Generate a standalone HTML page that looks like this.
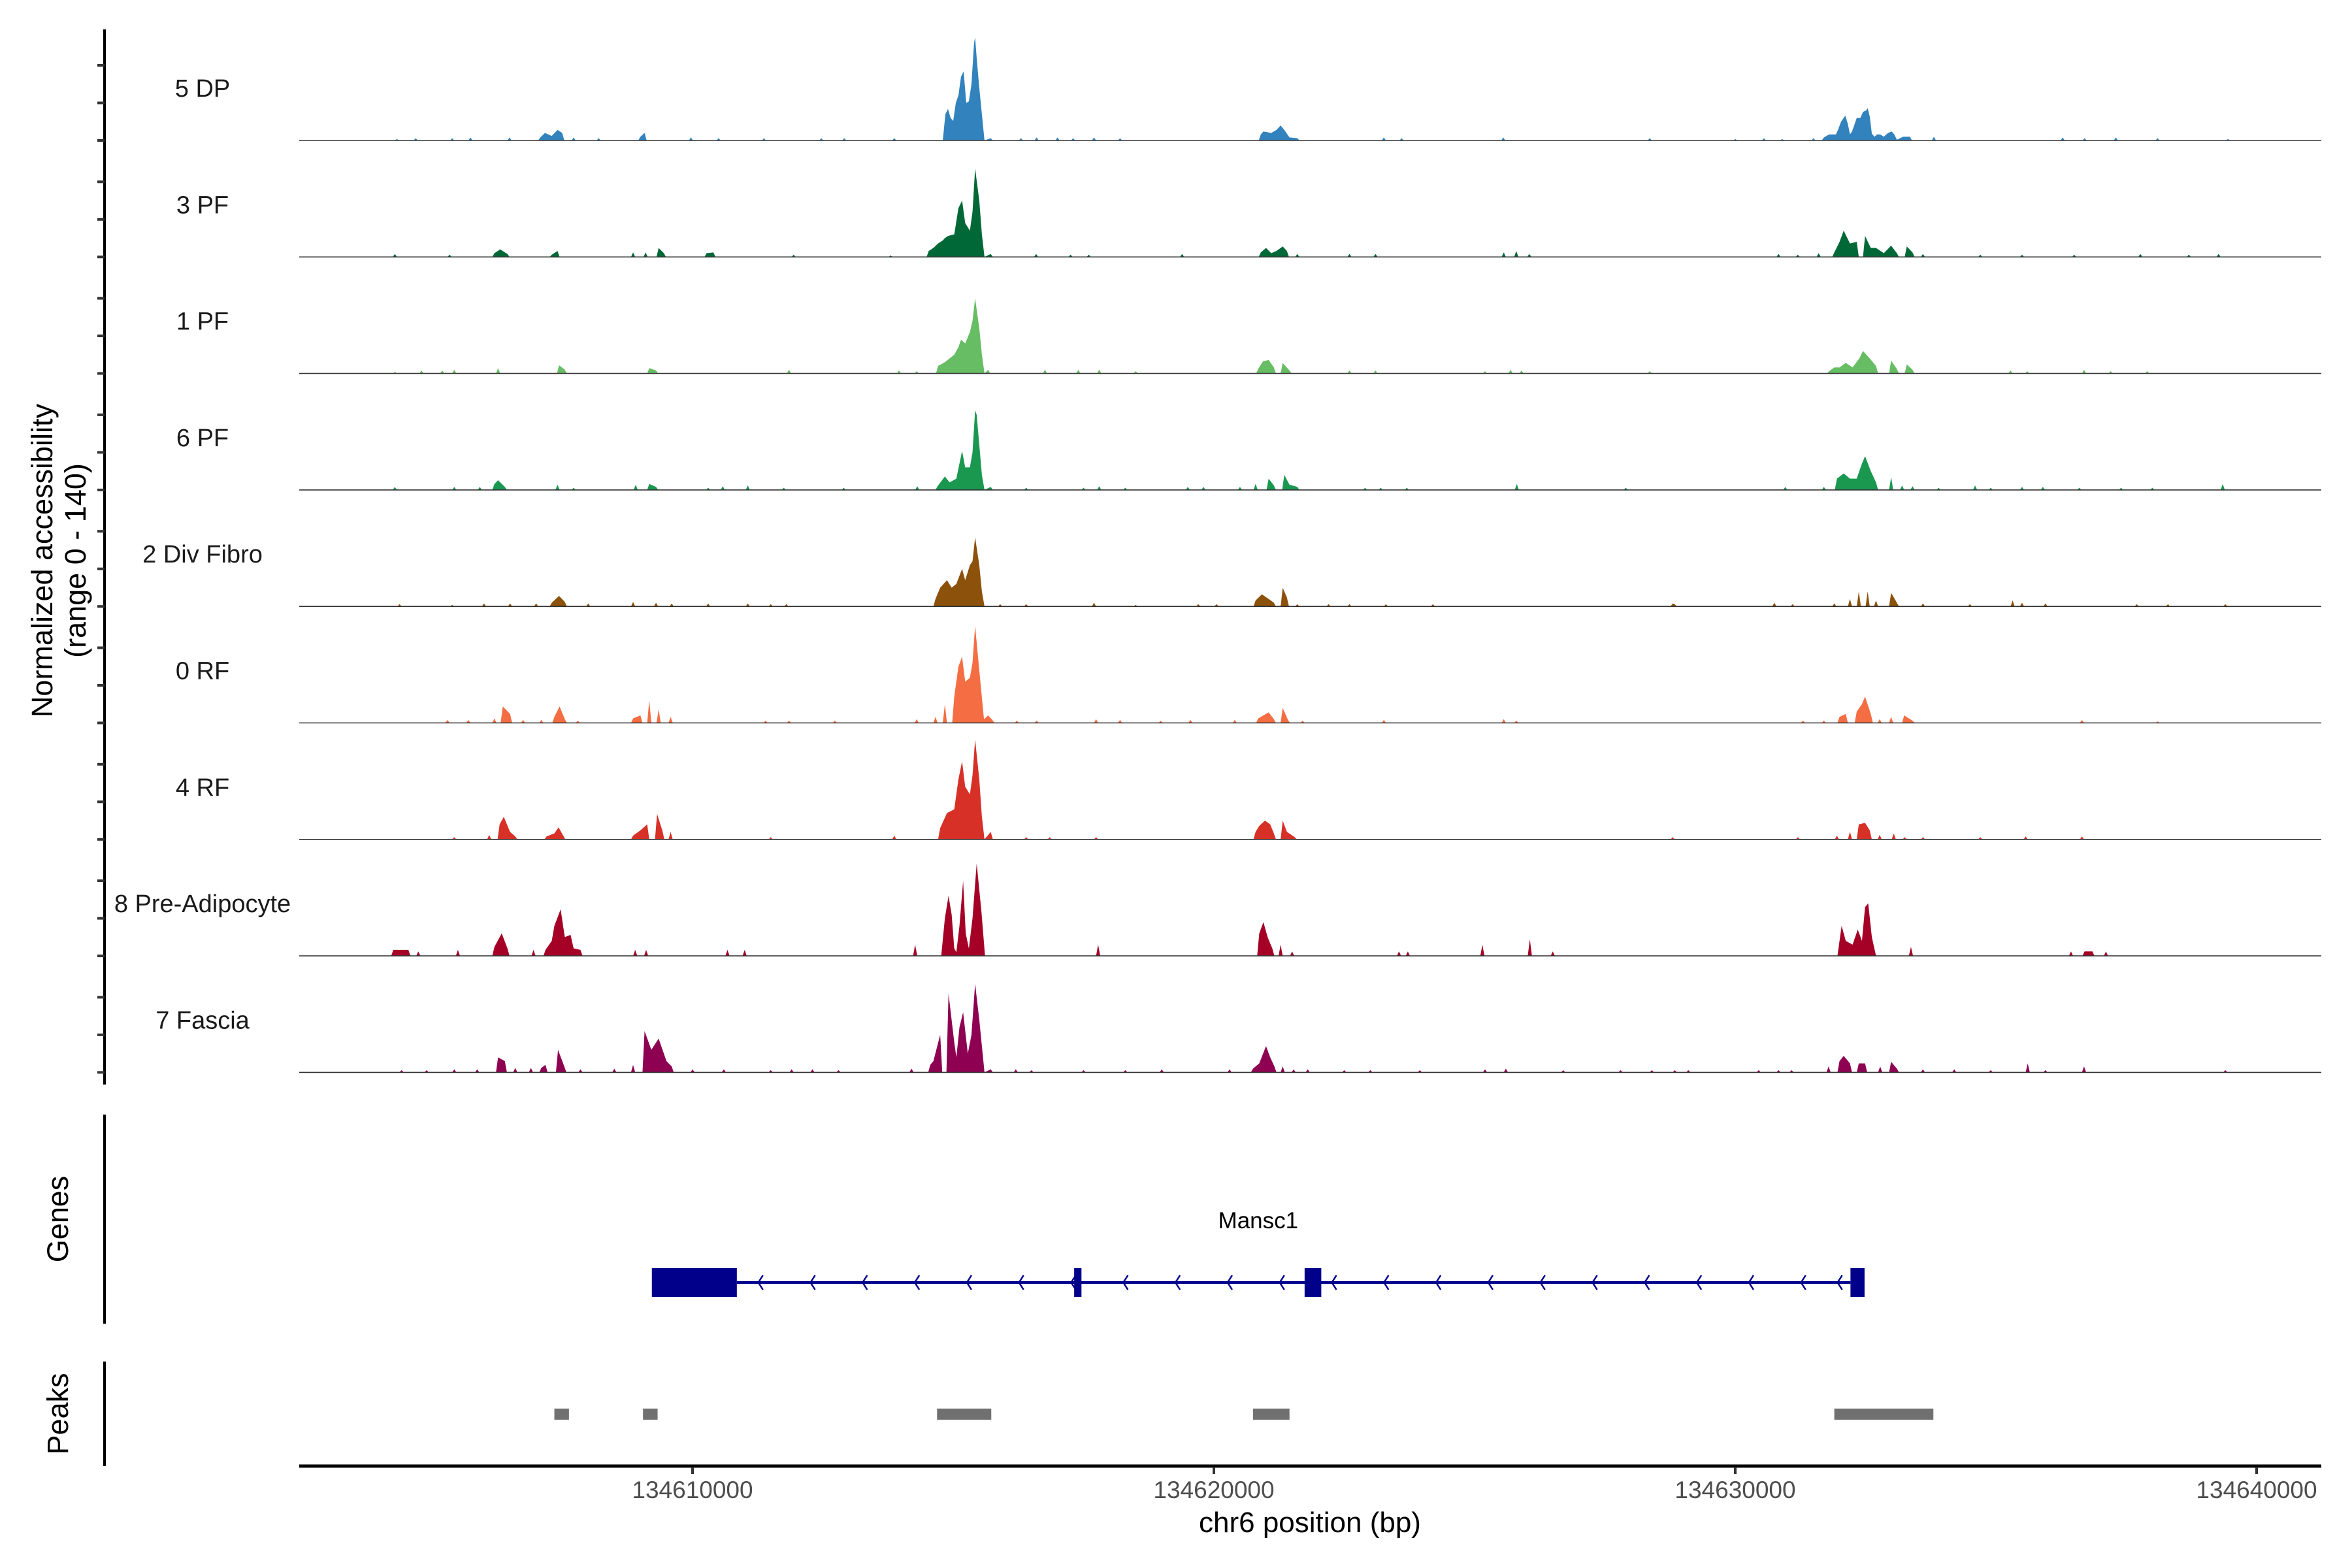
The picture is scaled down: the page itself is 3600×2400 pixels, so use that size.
<!DOCTYPE html>
<html><head><meta charset="utf-8">
<style>
html,body{margin:0;padding:0;background:#fff;}
svg{display:block;font-family:"Liberation Sans",Arial,sans-serif;}
</style></head>
<body>
<svg id="chart" xmlns="http://www.w3.org/2000/svg" width="3600" height="2400" viewBox="0 0 3600 2400">
  <g id="axes">
    <line x1="160" y1="45" x2="160" y2="1660" stroke="#000" stroke-width="4"/>
    <line x1="160" y1="1706" x2="160" y2="2026" stroke="#000" stroke-width="4"/>
    <line x1="160" y1="2084" x2="160" y2="2244" stroke="#000" stroke-width="4"/>
    <line x1="458" y1="2244" x2="3553" y2="2244" stroke="#000" stroke-width="5"/>
    <text transform="translate(80,858) rotate(-90)" text-anchor="middle" font-size="45" fill="#000">Normalized accessibility</text>
    <text transform="translate(131,858) rotate(-90)" text-anchor="middle" font-size="45" fill="#000">(range 0 - 140)</text>
    <text transform="translate(104,1866) rotate(-90)" text-anchor="middle" font-size="45" fill="#000">Genes</text>
    <text transform="translate(104,2164) rotate(-90)" text-anchor="middle" font-size="45" fill="#000">Peaks</text>
    <text x="2005" y="2345" text-anchor="middle" font-size="44" fill="#000">chr6 position (bp)</text>
  </g>
  <g id="tracks"></g>
  <g id="genes"></g>
  <g id="peaks"></g>
  <g id="xticks"></g>
</svg>
<script>
// positions in kb offset from 134600000; values in normalized accessibility (0-140)
const trackNames = ["5 DP","3 PF","1 PF","6 PF","2 Div Fibro","0 RF","4 RF","8 Pre-Adipocyte","7 Fascia"];
const trackColors = ["#3182bd","#006837","#66bd63","#1a9850","#8c510a","#f46d43","#d73027","#a50026","#8e0152"];
const xTickKb = [10,20,30,40];
const xTickLabels = ["134610000","134620000","134630000","134640000"];
const yTickValues = [0,50,100];

const cov5DP = [[4.33,2],[4.69,3],[5.39,3],[5.74,4],[6.49,4],[7.08,4],[7.17,10],[7.3,6],[7.41,14],[7.5,10],[7.72,4],[8.2,3],[9.0,5],[9.08,10],[9.97,4],[10.5,3],[11.37,3],[12.47,3],[12.91,3],[13.87,3],
 [14.8,0],[14.85,35],[14.9,42],[14.95,30],[15.0,26],[15.05,50],[15.1,60],[15.15,85],[15.2,92],[15.25,50],[15.3,52],[15.35,75],[15.4,130],[15.42,137],[15.45,110],[15.5,70],[15.55,35],[15.6,0],[15.72,3],
 [16.3,3],[16.6,4],[17.0,4],[17.3,3],[17.7,4],[18.2,3],[20.9,8],[20.95,12],[21.1,10],[21.2,14],[21.28,20],[21.35,14],[21.45,4],[21.6,3],[23.26,4],[23.6,3],[25.55,4],[28.36,3],
 [30.0,2],[30.55,3],[30.9,2],[31.5,3],[31.7,4],[31.8,8],[31.93,8],[31.97,14],[32.03,25],[32.11,33],[32.16,22],[32.2,8],[32.24,12],[32.33,30],[32.4,30],[32.45,38],[32.51,40],[32.54,43],[32.58,32],[32.62,9],[32.67,5],[32.72,8],[32.78,8],[32.85,5],[32.93,10],[33.0,12],[33.05,8],[33.1,1],[33.22,5],[33.35,5],[33.81,5],[36.28,4],[36.7,3],[37.3,4],[38.1,3],[39.45,2]];
const cov3PF = [[4.29,4],[5.34,3],[6.2,5],[6.31,10],[6.45,4],[7.3,3],[7.41,8],[8.86,6],[9.1,6],[9.35,12],[9.45,5],[10.27,5],[10.4,6],[11.94,3],[13.8,2],[14.53,8],[14.62,12],[14.71,18],[14.8,22],[14.84,25],[14.9,28],[15.02,30],[15.1,65],[15.17,75],[15.23,45],[15.32,35],[15.37,60],[15.42,118],[15.5,75],[15.55,30],[15.6,0],[15.72,4],
 [16.59,4],[17.25,3],[17.6,3],[19.39,4],[20.9,6],[21.0,12],[21.1,5],[21.2,8],[21.32,14],[21.4,8],[21.6,4],[22.6,4],[23.1,4],[25.56,6],[25.8,8],[26.05,4],
 [30.83,4],[31.2,3],[31.6,5],[31.9,6],[32.0,20],[32.08,35],[32.2,18],[32.33,20],[32.49,28],[32.6,12],[32.7,12],[32.85,5],[32.99,15],[33.1,5],[33.29,14],[33.4,6],[33.6,4],[34.7,3],[35.5,3],[36.5,3],[37.77,4],[38.7,3],[39.27,4]];
const cov1PF = [[4.29,2],[4.8,4],[5.2,4],[5.43,5],[6.27,7],[7.44,11],[7.55,5],[9.17,7],[9.3,4],[11.85,5],[13.96,4],[14.3,3],[14.71,10],[14.84,15],[14.93,20],[15.02,25],[15.1,35],[15.15,45],[15.23,40],[15.32,55],[15.37,70],[15.42,100],[15.5,60],[15.55,25],[15.6,0],[15.67,5],
 [16.76,5],[17.4,5],[17.8,5],[18.5,3],[20.85,6],[20.94,16],[21.05,18],[21.15,8],[21.32,14],[21.45,4],[22.6,4],[23.1,4],[25.2,3],[25.69,5],[25.9,4],[28.36,3],
 [31.8,3],[31.9,8],[32.0,8],[32.12,14],[32.25,8],[32.38,20],[32.45,30],[32.58,20],[32.7,10],[32.99,17],[33.1,6],[33.29,12],[33.4,5],[35.28,4],[35.6,3],[36.69,5],[37.2,3],[37.9,3]];
const cov6PF = [[4.29,4],[5.43,4],[5.92,4],[6.2,8],[6.27,13],[6.4,4],[7.41,7],[7.72,3],[8.91,7],[9.17,8],[9.3,4],[10.3,3],[10.58,5],[11.06,6],[11.75,3],[12.9,3],[14.31,5],[14.7,5],[14.84,18],[14.93,10],[15.06,15],[15.17,52],[15.23,30],[15.32,30],[15.37,50],[15.42,106],[15.45,100],[15.5,60],[15.55,20],[15.6,0],[15.72,4],
 [16.4,3],[17.5,3],[17.8,5],[18.3,3],[19.5,4],[19.8,4],[20.5,4],[20.8,8],[21.05,15],[21.15,6],[21.35,20],[21.45,7],[21.6,4],[22.9,3],[23.2,3],[23.7,3],[25.81,8],[27.9,3],
 [30.96,4],[31.7,4],[31.95,15],[32.08,22],[32.2,15],[32.33,15],[32.43,35],[32.49,45],[32.6,25],[32.7,10],[32.99,17],[33.2,6],[33.4,5],[33.9,3],[34.6,6],[34.9,3],[35.5,4],[35.9,4],[36.6,3],[37.4,3],[38.0,3],[39.35,8]];
const cov2Div = [[4.38,3],[5.39,2],[6.0,4],[6.5,4],[7.0,4],[7.3,5],[7.44,14],[7.55,6],[8.0,4],[8.86,6],[9.3,5],[9.6,4],[10.3,4],[11.06,4],[11.5,3],[11.8,3],[14.66,10],[14.75,25],[14.88,35],[14.97,25],[15.06,30],[15.17,50],[15.23,35],[15.32,55],[15.37,60],[15.42,92],[15.5,55],[15.55,20],[15.6,0],[15.9,3],
 [16.4,3],[17.7,5],[18.5,2],[19.7,3],[20.05,3],[20.8,8],[20.92,16],[21.05,10],[21.15,5],[21.32,25],[21.4,12],[21.6,3],[22.2,3],[22.6,3],[23.3,3],[24.2,3],[28.8,4],
 [28.84,3],[30.75,5],[31.1,3],[31.9,4],[32.2,10],[32.37,20],[32.54,20],[32.7,8],[32.99,18],[33.1,5],[33.6,4],[34.5,3],[35.32,8],[35.5,5],[35.95,4],[37.7,3],[38.3,3],[39.4,3]];
const cov0RF = [[5.3,4],[5.7,4],[6.2,6],[6.36,22],[6.5,12],[6.75,4],[7.1,4],[7.35,8],[7.45,22],[7.55,5],[7.8,3],[8.86,6],[9.0,10],[9.17,30],[9.35,18],[9.58,8],[11.4,3],[11.85,3],[12.73,3],[14.3,5],[14.66,8],[14.84,25],[15.02,35],[15.1,75],[15.17,88],[15.23,55],[15.32,60],[15.37,80],[15.42,129],[15.5,70],[15.59,5],[15.67,10],[15.75,4],
 [16.22,3],[16.6,3],[17.74,5],[18.2,4],[18.98,3],[19.55,4],[20.4,4],[20.85,6],[20.95,10],[21.05,14],[21.15,5],[21.32,20],[21.42,4],[21.7,3],[23.26,4],[25.56,5],[25.8,3],
 [31.3,3],[31.7,3],[32.0,8],[32.12,12],[32.33,15],[32.43,25],[32.49,35],[32.6,12],[32.77,5],[32.99,8],[33.24,10],[33.4,3],[36.65,4],[38.1,2]];
const cov4RF = [[5.43,3],[6.1,6],[6.3,20],[6.38,30],[6.5,10],[6.6,4],[7.2,4],[7.35,8],[7.43,16],[7.52,5],[8.86,5],[9.0,12],[9.13,20],[9.32,34],[9.42,12],[9.58,10],[11.5,3],[13.87,5],[14.75,15],[14.88,35],[15.02,40],[15.1,80],[15.17,104],[15.23,70],[15.32,60],[15.37,85],[15.42,133],[15.5,80],[15.55,30],[15.6,0],[15.72,10],
 [16.4,3],[16.85,3],[17.74,3],[20.8,10],[20.87,18],[20.98,25],[21.08,20],[21.15,8],[21.32,25],[21.4,10],[21.55,3],[28.8,3],
 [31.2,3],[31.95,5],[32.2,10],[32.37,20],[32.49,22],[32.58,12],[32.77,6],[33.04,8],[33.25,3],[33.6,3],[34.7,3],[35.57,4],[36.65,4]];
const covPreAd = [[4.26,8],[4.32,8],[4.45,8],[4.55,8],[4.74,6],[5.5,8],[6.2,12],[6.34,30],[6.45,10],[6.95,8],[7.18,8],[7.3,20],[7.35,40],[7.47,62],[7.55,25],[7.66,28],[7.72,10],[7.85,8],[8.9,8],[9.11,8],[10.67,8],[11.0,8],[14.27,15],
 [14.77,0],[14.84,50],[14.91,80],[14.97,55],[15.02,10],[15.06,5],[15.12,40],[15.19,100],[15.24,30],[15.3,10],[15.37,50],[15.45,123],[15.54,60],[15.61,0],
 [17.78,15],[20.87,30],[20.95,45],[21.03,25],[21.12,10],[21.28,15],[21.5,6],[23.55,6],[23.72,6],[25.15,15],[26.06,22],[26.5,6],
 [32.0,20],[32.04,40],[32.12,20],[32.25,15],[32.35,35],[32.43,20],[32.49,65],[32.55,70],[32.62,25],[32.7,0],[33.37,12],[36.44,6],[36.7,6],[36.85,6],[37.11,6]];
const covFascia = [[4.42,3],[4.9,3],[5.43,4],[5.87,4],[6.27,20],[6.4,15],[6.6,6],[6.9,6],[7.1,6],[7.18,10],[7.42,30],[7.54,8],[7.85,4],[8.5,5],[8.86,10],[9.08,55],[9.21,30],[9.35,45],[9.5,15],[9.6,8],[10.0,4],[10.6,4],[11.5,3],[11.9,4],[12.3,4],[12.8,3],[14.2,5],[14.56,10],[14.62,15],[14.75,50],[14.91,105],[15.02,40],[15.06,20],[15.12,60],[15.19,80],[15.28,25],[15.35,50],[15.42,118],[15.5,70],[15.6,0],[15.72,4],
 [16.2,4],[16.5,3],[17.5,3],[18.3,3],[19.0,4],[20.3,4],[20.75,5],[20.87,12],[21.0,35],[21.08,20],[21.16,8],[21.32,8],[21.53,4],[21.8,4],[22.5,3],[23.0,3],[23.95,3],[25.2,4],[25.6,5],[26.7,3],[27.8,3],[28.4,3],
 [28.84,3],[29.1,3],[30.45,3],[30.83,3],[31.08,3],[31.79,8],[32.0,15],[32.08,22],[32.2,12],[32.37,12],[32.49,12],[32.78,8],[32.99,14],[33.1,5],[33.6,4],[34.2,4],[34.9,3],[35.61,12],[35.95,3],[36.69,8],[39.4,3]];
const trackData = [cov5DP,cov3PF,cov1PF,cov6PF,cov2Div,cov0RF,cov4RF,covPreAd,covFascia];

const geneExons = [[9.22,10.85],[17.32,17.46],[21.74,22.06],[32.21,32.48]];
const geneSpan = [10.85,32.21];
const geneChevronsKb = [11.3,12.3,13.3,14.3,15.3,16.3,17.3,18.3,19.3,20.3,21.3,22.3,23.3,24.3,25.3,26.3,27.3,28.3,29.3,30.3,31.3,32.0];
const peakRegions = [[7.35,7.63],[9.05,9.33],[14.69,15.73],[20.75,21.45],[31.9,33.8]];

const NS = "http://www.w3.org/2000/svg";
const X0 = 458, X1 = 3553;
function xs(kb){ return 1060 + (kb - 10) * 79.8; }
function base(i){ return 215 + 178.3 * i; }
function ys(v,i){ return base(i) - v * 1.15; }
function mk(tag, attrs, parent){ const e = document.createElementNS(NS, tag); for (const k in attrs) e.setAttribute(k, attrs[k]); parent.appendChild(e); return e; }

const gT = document.getElementById('tracks');
const gAx = document.getElementById('axes');
trackData.forEach((pts, i) => {
  const b = base(i);
  const g = mk('g', {}, gT);
  
  
  yTickValues.forEach(v => {
    const t = mk('line', {x1:149, x2:160, y1:ys(v,i), y2:ys(v,i), stroke:'#333', 'stroke-width':4}, gAx);
    
    
  });
  const lab = mk('text', {x:310, y:b - 67, 'text-anchor':'middle', 'font-size':38, fill:'#1a1a1a'}, g);
  lab.textContent = trackNames[i];
  
  
  const sorted = pts.slice().sort((a,b)=>a[0]-b[0]);
  let d = '';
  let prev = null;
  sorted.forEach(p => {
    const x = xs(p[0]), y = ys(p[1], i);
    if (prev === null) { d += 'M' + xs(p[0]-0.04) + ',' + b + 'L' + x + ',' + y; }
    else if (p[0] - prev[0] > 0.16) {
      d += 'L' + xs(prev[0]+0.04) + ',' + b + 'L' + xs(p[0]-0.04) + ',' + b + 'L' + x + ',' + y;
    } else { d += 'L' + x + ',' + y; }
    prev = p;
  });
  if (prev) d += 'L' + xs(prev[0]+0.04) + ',' + b + 'Z';
  const area = mk('path', {d:d, fill:trackColors[i], stroke:'none'}, g);
  
  
  const bl = mk('line', {x1:X0, x2:X1, y1:b, y2:b, stroke:'#333', 'stroke-width':1.6}, g);
  
  
});

const gG = document.getElementById('genes');
const gy = 1963;
const gl = mk('line', {x1:xs(geneSpan[0]), x2:xs(geneSpan[1]), y1:gy, y2:gy, stroke:'#00008b', 'stroke-width':4}, gG);


geneChevronsKb.forEach(k => {
  const x = xs(k);
  const c = mk('polyline', {points:(x+4)+','+(gy-11)+' '+(x-3)+','+gy+' '+(x+4)+','+(gy+11), fill:'none', stroke:'#00008b', 'stroke-width':2.5}, gG);
  
  
});
geneExons.forEach(e => {
  const r = mk('rect', {x:xs(e[0]), y:1941, width:Math.max(xs(e[1])-xs(e[0]),8), height:44, fill:'#00008b'}, gG);
  
  
});
const gn = mk('text', {x:(xs(geneExons[0][0])+xs(geneExons[3][1]))/2, y:1880, 'text-anchor':'middle', 'font-size':35, fill:'#000'}, gG);
gn.textContent = 'Mansc1';



const gP = document.getElementById('peaks');
peakRegions.forEach(p => {
  const r = mk('rect', {x:xs(p[0]), y:2156, width:xs(p[1])-xs(p[0]), height:17, fill:'#707070'}, gP);
  
  
});

const gX = document.getElementById('xticks');
xTickKb.forEach((k, j) => {
  const x = xs(k);
  const t = mk('line', {x1:x, x2:x, y1:2246, y2:2256, stroke:'#333', 'stroke-width':4}, gX);
  
  
  const l = mk('text', {x:x, y:2293, 'text-anchor':'middle', 'font-size':37, fill:'#4d4d4d'}, gX);
  l.textContent = xTickLabels[j];
  
  
});
</script>
</body></html>
